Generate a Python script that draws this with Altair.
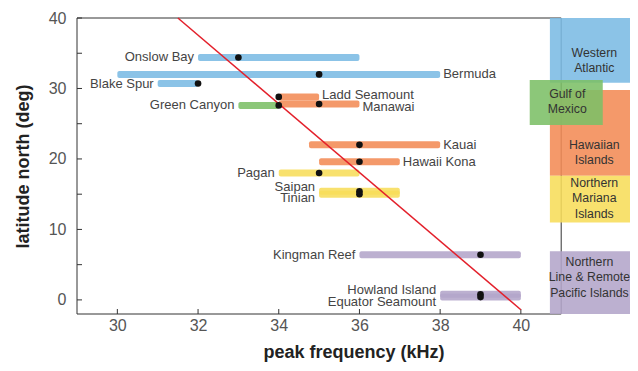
import altair as alt
import pandas as pd

# ---------------- data ----------------
sites = ["Onslow Bay", "Bermuda", "Blake Spur", "Ladd Seamount", "Manawai",
         "Green Canyon", "Kauai", "Hawaii Kona", "Pagan", "Saipan", "Tinian",
         "Kingman Reef", "Howland Island", "Equator Seamount"]
site_region = ["Western Atlantic", "Western Atlantic", "Western Atlantic",
               "Hawaiian Islands", "Hawaiian Islands", "Gulf of Mexico",
               "Hawaiian Islands", "Hawaiian Islands",
               "Northern Mariana Islands", "Northern Mariana Islands", "Northern Mariana Islands",
               "Northern Line & Remote Pacific Islands", "Northern Line & Remote Pacific Islands",
               "Northern Line & Remote Pacific Islands"]
latitude = [34.4, 32.0, 30.7, 28.8, 27.8, 27.6, 22.0, 19.6, 18.0, 15.4, 15.0, 6.4, 0.8, 0.4]
freq_min = [32.0, 30.0, 31.0, 34.0, 34.0, 33.0, 34.75, 35.0, 34.0, 35.0, 35.0, 36.0, 38.0, 38.0]
freq_max = [36.0, 38.0, 32.0, 35.0, 36.0, 34.0, 38.0, 37.0, 36.0, 37.0, 37.0, 40.0, 40.0, 40.0]
freq_peak = [33.0, 35.0, 32.0, 34.0, 35.0, 34.0, 36.0, 36.0, 35.0, 36.0, 36.0, 39.0, 39.0, 39.0]
label_side = ["left", "right", "left", "right", "right", "left", "right", "right",
              "left", "left", "left", "left", "left", "left"]

regions = ["Western Atlantic", "Hawaiian Islands", "Northern Mariana Islands",
           "Northern Line & Remote Pacific Islands", "Gulf of Mexico"]
region_text = ["Western\nAtlantic", "Hawaiian\nIslands", "Northern\nMariana\nIslands",
               "Northern\nLine & Remote\nPacific Islands", "Gulf of\nMexico"]
region_f0 = [40.72, 40.72, 40.72, 40.72, 40.22]
region_f1 = [43.0, 43.0, 43.0, 43.0, 42.03]
region_lat0 = [30.8, 17.6, 11.0, -2.0, 24.8]
region_lat1 = [40.0, 29.8, 17.6, 6.9, 31.2]
region_text_f = [41.82, 41.82, 41.82, 41.7, 41.15]
region_text_lat = [35.09, 21.99, 16.6, 5.39, 29.23]   # latitude of each label's first line
region_colors = ["#7bbbe4", "#f28b55", "#f7dd5a", "#b3a5c9", "#7cbf66"]

trend_freq = [31.5, 40.0]
trend_lat = [40.0, -1.4]

x_ticks = [30, 32, 34, 36, 38, 40]
y_ticks_major = [0, 10, 20, 30, 40]
y_ticks_minor = [5, 15, 25, 35]

# ---------------- layout / style ----------------
W, H = 553, 296
XMIN, XMAX = 29.0, 29.0 + 553 / 40.35
YMIN, YMAX = -2.0, 40.0
FRAME_X = 41.0
PX_X = W / (XMAX - XMIN)
PX_Y = H / (YMAX - YMIN)
TICK_PX = 5
FONT = "Liberation Sans"
label_nudge_px = {"Ladd Seamount": -2, "Manawai": 3, "Saipan": -4, "Tinian": 4,
                  "Howland Island": -4, "Equator Seamount": 5}

xs = alt.Scale(domain=[XMIN, XMAX], nice=False, zero=False, padding=0)
ys = alt.Scale(domain=[YMIN, YMAX], nice=False, zero=False, padding=0)
cs = alt.Scale(domain=regions, range=region_colors)

sites_df = pd.DataFrame({
    "site": sites, "region": site_region, "lat": latitude,
    "fmin": freq_min, "fmax": freq_max, "fpeak": freq_peak, "side": label_side,
})
sites_df["label_lat"] = [l - label_nudge_px.get(s, 0) / PX_Y for s, l in zip(sites, latitude)]

regions_df = pd.DataFrame({
    "region": regions, "text": region_text, "f0": region_f0, "f1": region_f1,
    "lat0": region_lat0, "lat1": region_lat1, "tf": region_text_f, "tl": region_text_lat,
})

frame_df = pd.DataFrame({
    "x": [XMIN, XMIN, XMIN, FRAME_X],
    "x2": [FRAME_X, FRAME_X, XMIN, FRAME_X],
    "y": [YMIN, YMAX, YMIN, YMIN],
    "y2": [YMIN, YMAX, YMAX, YMAX],
})

tick_rows = []
for v in x_ticks:
    tick_rows.append({"x": v, "x2": v, "y": YMIN, "y2": YMIN + TICK_PX / PX_Y})
for v in y_ticks_major + y_ticks_minor:
    tick_rows.append({"x": XMIN, "x2": XMIN + TICK_PX / PX_X, "y": v, "y2": v})
ticks_df = pd.DataFrame(tick_rows)

trend_df = pd.DataFrame({"f": trend_freq, "lat": trend_lat})

# ---------------- axes ----------------
x_axis = alt.Axis(values=x_ticks, domain=False, ticks=False, grid=False, format="d",
                  labelFont=FONT, labelFontSize=16, labelColor="#555555", labelPadding=3,
                  title="peak frequency (kHz)", titleFont=FONT, titleFontSize=18,
                  titleFontWeight="bold", titleColor="#222222", titlePadding=10)
y_axis = alt.Axis(values=y_ticks_major, domain=False, ticks=False, grid=False, format="d",
                  labelFont=FONT, labelFontSize=16, labelColor="#555555", labelPadding=11,
                  title="latitude north (deg)", titleFont=FONT, titleFontSize=18,
                  titleFontWeight="bold", titleColor="#222222", titlePadding=16)


def X(field):
    return alt.X(field, type="quantitative", scale=xs, axis=x_axis)


def Y(field):
    return alt.Y(field, type="quantitative", scale=ys, axis=y_axis)


# ---------------- layers ----------------
frame = alt.Chart(frame_df).mark_rule(color="#333333", strokeWidth=1).encode(
    x=X("x"), x2="x2:Q", y=Y("y"), y2="y2:Q",
)

ticks = alt.Chart(ticks_df).mark_rule(color="#333333", strokeWidth=1).encode(
    x=X("x"), x2="x2:Q", y=Y("y"), y2="y2:Q",
)

boxes = alt.Chart(regions_df).mark_rect(opacity=0.88, clip=True).encode(
    x=X("f0"), x2="f1:Q", y=Y("lat0"), y2="lat1:Q",
    color=alt.Color("region:N", scale=cs, legend=None),
)

box_text = alt.Chart(regions_df).mark_text(
    font=FONT, fontSize=12.3, color="#333333", lineBreak="\n", lineHeight=15.5,
    align="center", baseline="middle",
).encode(
    x=X("tf"), y=Y("tl"), text="text:N",
)

bars = alt.Chart(sites_df).mark_bar(height=7, opacity=0.88, cornerRadius=2).encode(
    x=X("fmin"), x2="fmax:Q", y=Y("lat"),
    color=alt.Color("region:N", scale=cs, legend=None),
)

trend = alt.Chart(trend_df).mark_line(color="#e3202b", strokeWidth=1.5).encode(
    x=X("f"), y=Y("lat"),
)

dots = alt.Chart(sites_df).mark_circle(size=44, color="#111111", opacity=1).encode(
    x=X("fpeak"), y=Y("lat"),
)

labels_left = alt.Chart(sites_df).transform_filter(alt.datum.side == "left").mark_text(
    font=FONT, fontSize=13, color="#444444", align="right", baseline="middle", dx=-4,
).encode(
    x=X("fmin"), y=Y("label_lat"), text="site:N",
)

labels_right = alt.Chart(sites_df).transform_filter(alt.datum.side == "right").mark_text(
    font=FONT, fontSize=13, color="#444444", align="left", baseline="middle", dx=3,
).encode(
    x=X("fmax"), y=Y("label_lat"), text="site:N",
)

chart = alt.layer(
    frame, ticks, boxes, box_text, bars, trend, dots, labels_left, labels_right
).properties(
    width=W, height=H,
    autosize=alt.AutoSizeParams(type="none"),
    padding={"left": 69, "top": 10, "right": 0, "bottom": 49},
).configure_view(stroke=None)

chart.save("out.html", embed_options={"renderer": "svg", "actions": False})
